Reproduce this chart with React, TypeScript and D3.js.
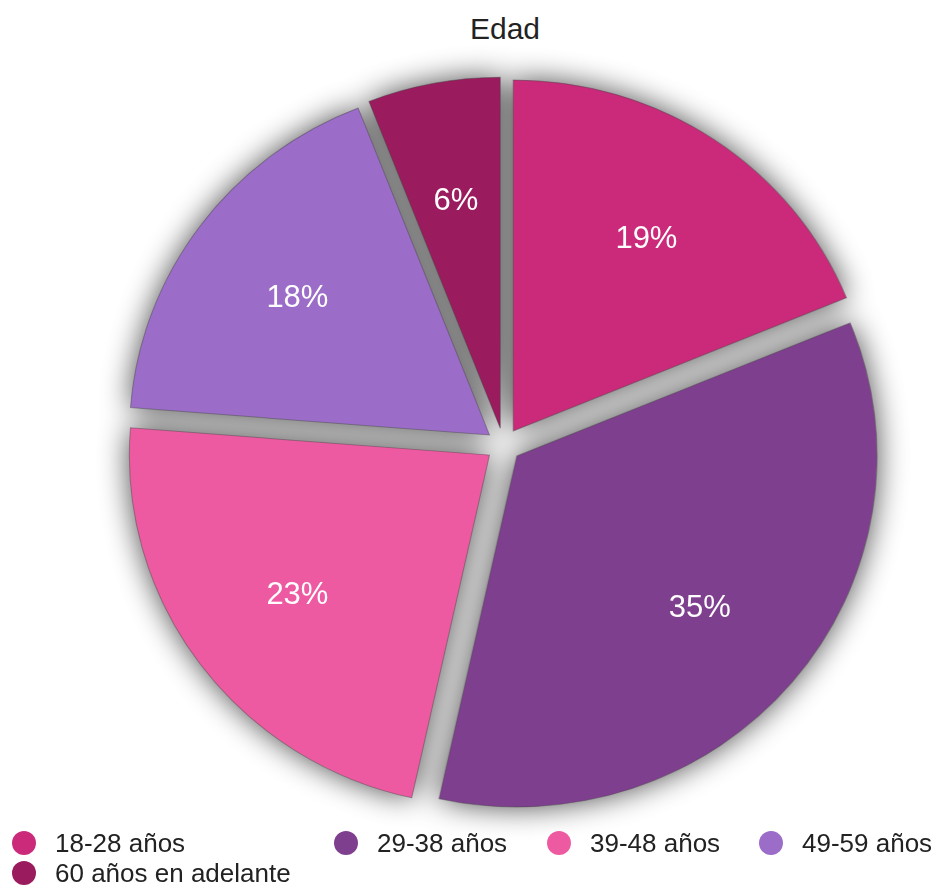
import React, { useMemo } from "react";
import * as d3 from "d3";

// Age distribution
const categories = ["18-28 años", "29-38 años", "39-48 años", "49-59 años", "60 años en adelante"];
const values = [19, 35, 23, 18, 6];
const labels = ["19%", "35%", "23%", "18%", "6%"];
const colors = ["#cb2a7b", "#7f3f8f", "#ee5aa2", "#9b6cc8", "#9a1b5e"];
const title = "Edad";

const W = 948;
const H = 888;
const CX = 503.5;
const CY = 445;
const R = 351;
const SX = 1.026; // slight horizontal stretch of the disc
const EXPLODE = 17;
const LABEL_R = 250;

const FONT = "'Helvetica Neue', Helvetica, Arial, 'Liberation Sans', sans-serif";

// legend placement: [x of swatch centre, row]
const legendX = [24, 346, 559, 771, 24];
const legendRow = [0, 0, 0, 0, 1];

export default function App() {
  const arcs = useMemo(
    () =>
      d3
        .pie<number>()
        .sort(null)
        .value((v) => v)
        .startAngle(0)
        .endAngle(2 * Math.PI)(values),
    []
  );
  const arcGen = d3.arc<d3.PieArcDatum<number>>().innerRadius(0).outerRadius(R);

  const offset = (a: d3.PieArcDatum<number>, dist: number) => {
    const mid = (a.startAngle + a.endAngle) / 2;
    return [Math.sin(mid) * dist, -Math.cos(mid) * dist];
  };

  return (
    <svg
      width={W}
      height={H}
      style={{ position: "absolute", left: 0, top: 0, display: "block", background: "#fff" }}
      fontFamily={FONT}
    >
      <defs>
        <filter id="pieShadow" x="-30%" y="-30%" width="160%" height="160%">
          <feGaussianBlur stdDeviation="15" />
        </filter>
      </defs>

      <text x={505} y={39} textAnchor="middle" fontSize={30} fill="#222">
        {title}
      </text>

      <g transform={`translate(${CX},${CY}) scale(${SX},1)`}>
        <g filter="url(#pieShadow)" opacity={0.72}>
          {arcs.map((a, i) => {
            const [dx, dy] = offset(a, EXPLODE);
            return <path key={i} d={arcGen(a) || ""} transform={`translate(${dx},${dy})`} fill="#000" />;
          })}
        </g>
        {arcs.map((a, i) => {
          const [dx, dy] = offset(a, EXPLODE);
          return (
            <path
              key={i}
              d={arcGen(a) || ""}
              transform={`translate(${dx},${dy})`}
              fill={colors[i]}
              stroke="rgba(70,70,70,0.45)"
              strokeWidth={1}
            />
          );
        })}
      </g>

      {arcs.map((a, i) => {
        const [lx, ly] = offset(a, LABEL_R);
        return (
          <text
            key={i}
            x={CX + lx * SX}
            y={CY + ly}
            textAnchor="middle"
            dominantBaseline="central"
            fontSize={31}
            fontWeight={500}
            fill="#fff"
          >
            {labels[i]}
          </text>
        );
      })}

      {categories.map((c, i) => {
        const y = 843 + legendRow[i] * 30;
        return (
          <g key={c}>
            <circle cx={legendX[i]} cy={y} r={12} fill={colors[i]} />
            <text x={legendX[i] + 31} y={y} dominantBaseline="central" fontSize={26} fill="#222">
              {c}
            </text>
          </g>
        );
      })}
    </svg>
  );
}
